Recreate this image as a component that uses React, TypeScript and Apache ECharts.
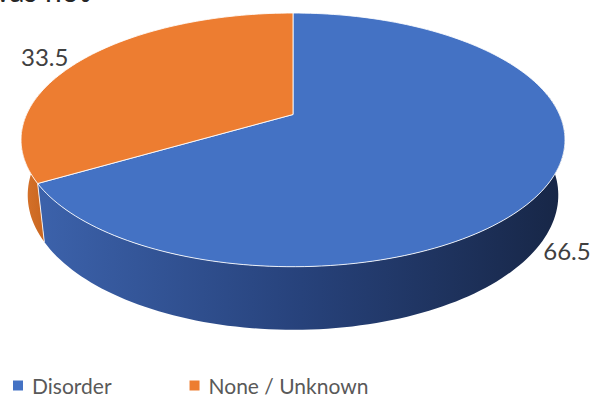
import React, { useEffect, useRef } from "react";
import * as echarts from "echarts";

// ---- data ----
const categories = ["Disorder", "None / Unknown"];
const values = [66.5, 33.5];

// ---- styles / layout ----
const topColors = ["#4472C4", "#ED7D31"];
const sideStops = [
  [
    { offset: 0, color: "#3c62ab" },
    { offset: 0.5, color: "#27427b" },
    { offset: 1, color: "#172646" },
  ],
  [
    { offset: 0, color: "#d8742c" },
    { offset: 1, color: "#c8651f" },
  ],
];

// perspective camera for the 3D disc
const SIN_A = 0.457;
const COS_A = 0.889;
const DIST = 4.447;
const FOCAL = 1185;
const CX = 293;
const CY = 114.5;
const DEPTH = 0.235;

function proj(deg: number, r: number, yw: number): number[] {
  const t = (deg * Math.PI) / 180;
  const s = Math.sin(t);
  const c = Math.cos(t);
  const xc = r * s;
  const yc = yw * COS_A + r * c * SIN_A;
  const d = DIST + r * c * COS_A - yw * SIN_A;
  return [CX + (FOCAL * xc) / d, CY - (FOCAL * yc) / d];
}

function arc(a0: number, a1: number, r: number, yw: number): number[][] {
  const steps = Math.max(2, Math.ceil((a1 - a0) / 1.5));
  const pts: number[][] = [];
  for (let k = 0; k <= steps; k++) pts.push(proj(a0 + ((a1 - a0) * k) / steps, r, yw));
  return pts;
}

export default function App() {
  const ref = useRef<HTMLDivElement>(null);
  useEffect(() => {
    document.body.style.margin = "0";
    if (!ref.current) return;
    const chart = echarts.init(ref.current, null, { renderer: "svg" });
    const total = values.reduce((a, b) => a + b, 0);

    const renderItem = (params: any, api: any) => {
      const i = params.seriesIndex;
      const v = api.value(0);
      const before = values.slice(0, i).reduce((a, b) => a + b, 0);
      const start = (before / total) * 360;
      const end = start + (v / total) * 360;
      const children: any[] = [];

      const lo = Math.max(start, 80);
      const hi = Math.min(end, 280);
      if (hi > lo) {
        const pts = arc(lo, hi, 1, 0).concat(arc(lo, hi, 1, -DEPTH).reverse());
        children.push({
          type: "polygon",
          z2: 1,
          shape: { points: pts },
          style: { fill: new echarts.graphic.LinearGradient(0, 0, 1, 0, sideStops[i]) },
        });
      }
      const cs = Math.cos((start * Math.PI) / 180);
      if (cs < -0.25) {
        const p1 = proj(start, 1, 0);
        const p2 = proj(start, 1, -DEPTH);
        children.push({
          type: "line",
          z2: 5,
          shape: { x1: p1[0], y1: p1[1], x2: p2[0], y2: p2[1] },
          style: { stroke: "rgba(255,255,255,0.85)", lineWidth: 1 },
        });
      }
      const topPts = [proj(0, 0, 0)].concat(arc(start, end, 1, 0));
      children.push({
        type: "polygon",
        z2: 10,
        shape: { points: topPts },
        style: { fill: topColors[i], stroke: "rgba(255,255,255,0.85)", lineWidth: 1, lineJoin: "round" },
      });

      const mid = (start + end) / 2;
      const cm = Math.cos((mid * Math.PI) / 180);
      const sm = Math.sin((mid * Math.PI) / 180);
      let lx: number, ly: number, va: string;
      if (cm >= 0) {
        const p = proj(mid, 1, 0);
        lx = p[0] + (sm < 0 ? -14 : 14);
        ly = p[1] - 3;
        va = "middle";
      } else {
        const p = proj(mid, 1, -DEPTH);
        lx = p[0];
        ly = p[1] - 1;
        va = "top";
      }
      children.push({
        type: "text",
        z2: 20,
        x: lx,
        y: ly,
        style: {
          text: v.toFixed(1),
          fill: "#404040",
          fontSize: 24,
          fontFamily: "Lato",
          align: sm < 0 ? "right" : "left",
          verticalAlign: va,
        },
      });
      return { type: "group", children };
    };

    chart.setOption({
      animation: false,
      legend: {
        data: categories,
        left: 13,
        top: 375,
        padding: 0,
        icon: "rect",
        itemWidth: 10,
        itemHeight: 10,
        itemGap: 78,
        selectedMode: false,
        textStyle: { fontFamily: "Lato", fontSize: 21, color: "#595959", padding: [0, 0, 0, 4] },
      },
      graphic: [
        {
          type: "text",
          left: -14,
          top: -25,
          style: { text: "was not", fontFamily: "Lato", fontSize: 30, fill: "#262626" },
        },
      ],
      series: categories.map((name, i) => ({
        type: "custom",
        name,
        coordinateSystem: "none",
        silent: true,
        itemStyle: { color: topColors[i] },
        renderItem,
        data: [[values[i]]],
      })),
    });
    return () => chart.dispose();
  }, []);
  return <div ref={ref} style={{ width: 591, height: 405 }} />;
}
